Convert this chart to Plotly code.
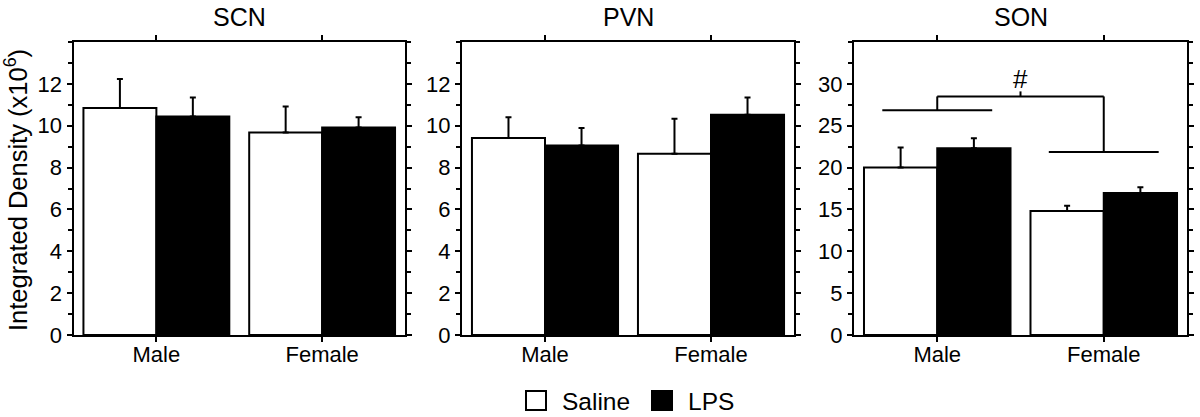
import plotly.graph_objects as go

W, H = 1200, 417

categories = ["Male", "Female"]
panels = ["SCN", "PVN", "SON"]

saline_vals = {"SCN": [10.85, 9.68], "PVN": [9.41, 8.66], "SON": [20.0, 14.8]}
saline_err = {"SCN": [1.38, 1.24], "PVN": [0.99, 1.67], "SON": [2.4, 0.65]}
lps_vals = {"SCN": [10.44, 9.92], "PVN": [9.05, 10.52], "SON": [22.3, 16.96]}
lps_err = {"SCN": [0.91, 0.49], "PVN": [0.84, 0.83], "SON": [1.2, 0.68]}

y_max = {"SCN": 14, "PVN": 14, "SON": 35}
y_ticks = {"SCN": [0, 2, 4, 6, 8, 10, 12], "PVN": [0, 2, 4, 6, 8, 10, 12],
           "SON": [0, 5, 10, 15, 20, 25, 30]}
y_minor = {"SCN": 1, "PVN": 1, "SON": 2.5}

# SON significance bracket levels (data units)
son_male_line = 26.85
son_top_line = 28.5
son_female_line = 21.85
son_hash_y = 30.6

FONT = "Liberation Sans, Arial, sans-serif"

px_x = [(73.5, 405), (462, 794), (854, 1187)]
y_dom = [1 - 335 / H, 1 - 42 / H]

fig = go.Figure()

for i, p in enumerate(panels):
    xa = "x" if i == 0 else f"x{i+1}"
    ya = "y" if i == 0 else f"y{i+1}"
    fig.add_trace(go.Bar(
        x=categories, y=saline_vals[p], name="Saline", xaxis=xa, yaxis=ya,
        marker=dict(color="white", line=dict(color="black", width=2)),
        error_y=dict(type="data", array=saline_err[p], arrayminus=[0, 0], symmetric=False,
                     color="black", thickness=2, width=3),
        showlegend=False, offsetgroup="s",
    ))
    fig.add_trace(go.Bar(
        x=categories, y=lps_vals[p], name="LPS", xaxis=xa, yaxis=ya,
        marker=dict(color="black", line=dict(color="black", width=2)),
        error_y=dict(type="data", array=lps_err[p], arrayminus=[0, 0], symmetric=False,
                     color="black", thickness=2, width=3),
        showlegend=False, offsetgroup="l",
    ))
    xkey = "xaxis" if i == 0 else f"xaxis{i+1}"
    ykey = "yaxis" if i == 0 else f"yaxis{i+1}"
    fig.layout[xkey] = dict(
        domain=[px_x[i][0] / W, px_x[i][1] / W], anchor=ya, automargin=False,
        showline=True, linecolor="black", linewidth=2, mirror="ticks",
        ticks="outside", ticklen=5, tickwidth=2, tickcolor="black",
        ticklabelstandoff=-6,
        tickfont=dict(family=FONT, size=22, color="black"),
        showgrid=False, zeroline=False, fixedrange=True,
    )
    fig.layout[ykey] = dict(
        domain=y_dom, anchor=xa, range=[0, y_max[p]], automargin=False,
        tickmode="array", tickvals=y_ticks[p],
        showline=True, linecolor="black", linewidth=2, mirror="ticks",
        ticks="outside", ticklen=5, tickwidth=2, tickcolor="black",
        minor=dict(tickmode="linear", tick0=0, dtick=y_minor[p], ticks="outside",
                   ticklen=4, tickwidth=1.5, tickcolor="black"),
        tickfont=dict(family=FONT, size=22, color="black"),
        showgrid=False, zeroline=False, fixedrange=True,
    )
    fig.add_annotation(
        text=p, xref="paper", yref="paper",
        x=(px_x[i][0] + px_x[i][1]) / 2 / W, y=1 - 17 / H,
        xanchor="center", yanchor="middle", showarrow=False,
        font=dict(family=FONT, size=25, color="black"),
    )

# SON bracket
lw = dict(color="black", width=2)
seg = [
    (-0.33, son_male_line, 0.33, son_male_line),
    (0, son_male_line, 0, son_top_line),
    (0, son_top_line, 1, son_top_line),
    (1, son_top_line, 1, son_female_line),
    (0.67, son_female_line, 1.33, son_female_line),
    (0.5, son_top_line, 0.5, son_top_line + 0.6),
]
for x0, y0, x1, y1 in seg:
    fig.add_shape(type="line", xref="x3", yref="y3", x0=x0, y0=y0, x1=x1, y1=y1, line=lw)
fig.add_annotation(text="#", xref="x3", yref="y3", x=0.5, y=son_hash_y, showarrow=False,
                   font=dict(family=FONT, size=26, color="black"))

# Y axis title
fig.add_annotation(
    text="Integrated Density (x10<sup>6</sup>)", xref="paper", yref="paper",
    x=16 / W, y=1 - 190 / H, textangle=-90, xanchor="center", yanchor="middle",
    showarrow=False, font=dict(family=FONT, size=25.5, color="black"),
)

# Legend
legend_items = [("Saline", "white", 526, 560), ("LPS", "black", 652, 686)]
for name, col, bx, tx in legend_items:
    fig.add_shape(type="rect", xref="paper", yref="paper",
                  x0=bx / W, x1=(bx + 20) / W, y0=1 - 410 / H, y1=1 - 391 / H,
                  line=dict(color="black", width=2), fillcolor=col)
    fig.add_annotation(text=name, xref="paper", yref="paper", x=tx / W, y=1 - 401 / H,
                       xanchor="left", yanchor="middle", showarrow=False,
                       font=dict(family=FONT, size=24.5, color="black"))

fig.update_layout(
    template="none",
    width=W, height=H, margin=dict(l=0, r=0, t=0, b=0, autoexpand=False),
    barmode="group", bargap=0.12, bargroupgap=0,
    plot_bgcolor="white", paper_bgcolor="white", showlegend=False,
)

fig.write_html("out.html", config={"displayModeBar": False},
               post_script="document.body.style.margin='0';document.body.style.overflow='hidden';")
